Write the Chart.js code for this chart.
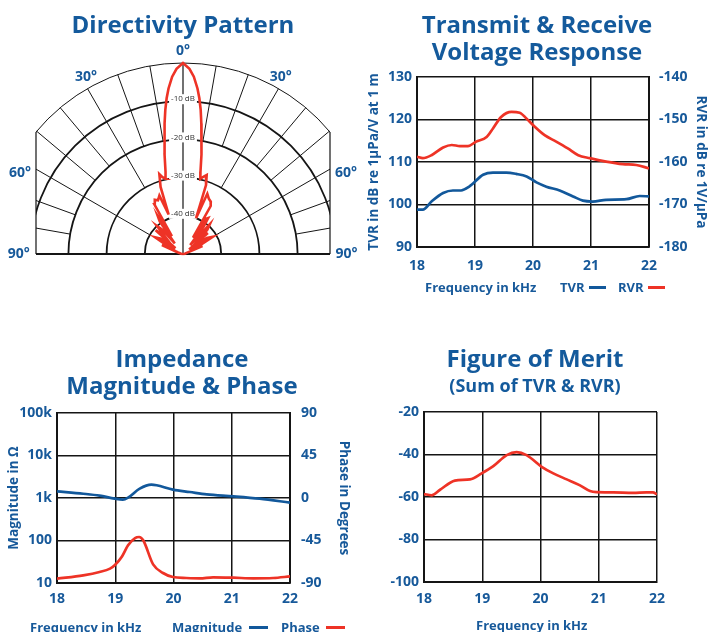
<!DOCTYPE html>
<html>
<head>
<meta charset="utf-8">
<script src="https://cdn.jsdelivr.net/npm/chart.js@4.4.1/dist/chart.umd.min.js"></script>
<style>
  body { margin: 0; background: #fff; }
  #page { position: relative; width: 709px; height: 632px; overflow: hidden; font-family: 'Open Sans', sans-serif; font-weight: 700; color: #17599a; }
  canvas { position: absolute; left: 0; top: 0; }
  .title { position: absolute; text-align: center; white-space: nowrap; font-size: 24px; line-height: 27px; color: #145a9c; }
  .txt { position: absolute; font-size: 13px; line-height: 16px; white-space: nowrap; }
  .key { position: absolute; height: 3px; }
</style>
</head>
<body>
<div id="page">
  <canvas id="polar" width="709" height="632"></canvas>
  <canvas id="tvr" width="709" height="632"></canvas>
  <canvas id="imp" width="709" height="632"></canvas>
  <canvas id="fom" width="709" height="632"></canvas>

  <div class="title" style="left:33px;width:300px;top:10px">Directivity Pattern</div>
  <div class="title" style="left:387px;width:300px;top:10px">Transmit &amp; Receive<br>Voltage Response</div>
  <div class="title" style="left:32px;width:300px;top:344px">Impedance<br>Magnitude &amp; Phase</div>
  <div class="title" style="left:385px;width:300px;top:344px">Figure of Merit</div>
  <div class="title" style="left:385px;width:300px;top:372px;font-size:18px">(Sum of TVR &amp; RVR)</div>

  <div class="txt" style="left:425px;top:279px">Frequency in kHz</div>
  <div class="txt" style="left:560px;top:279px">TVR</div>
  <div class="key" style="left:589px;top:286px;width:17px;background:#12589b"></div>
  <div class="txt" style="left:618px;top:279px">RVR</div>
  <div class="key" style="left:648px;top:286px;width:17px;background:#ee3326"></div>

  <div class="txt" style="left:30px;top:619px">Frequency in kHz</div>
  <div class="txt" style="left:172px;top:619px">Magnitude</div>
  <div class="key" style="left:249px;top:626px;width:19px;background:#12589b"></div>
  <div class="txt" style="left:281px;top:619px">Phase</div>
  <div class="key" style="left:326px;top:626px;width:19px;background:#ee3326"></div>

  <div class="txt" style="left:476px;top:617px">Frequency in kHz</div>
</div>

<script>
// Directivity pattern: angle from axis (deg) and level (dB)
const patternAngle = [-90, -80, -72, -67, -63, -59, -55, -52, -49, -46, -43, -40, -38, -35.5, -33.5, -32, -30, -27.5, -25, -22, -20, -18.5, -16.5, -15, -13, -12, -10.5, -9, -8, -7, -6, -5, -3.5, -2,
  0, 2, 3.5, 5, 6, 7, 8, 9, 10.5, 12, 13, 15, 16.7, 18.5, 20, 22, 25, 28, 30, 31.5, 33, 35, 37, 39, 42, 45, 47, 50, 53, 56, 60, 64, 68, 72, 80, 90];
const patternLevel = [-50, -49.5, -48.5, -44, -46, -41.5, -43, -47.5, -40.5, -43.5, -40, -42, -46.5, -39.5, -38, -44.5, -35, -34, -34.5, -33.5, -39, -31.5, -28.2, -29.2, -29.8, -28, -23.5, -19, -15.5, -12, -9, -6.5, -3.5, -1.5,
  0, -1.5, -3.5, -6.5, -9, -12, -15.5, -19, -23.5, -28, -29.8, -29, -28.4, -31, -40, -33, -34, -34.5, -35.5, -45, -39, -38.5, -41, -47, -39.5, -41, -44, -41.5, -48, -42.5, -41, -46, -44.5, -49, -49.5, -50];
const ringLevels = [0, -10, -20, -30, -40];

// Transmit / receive voltage response
const tvrFreq = [18.0, 18.1, 18.25, 18.45, 18.62, 18.76, 18.9, 19.14, 19.31, 19.54, 19.71, 19.89, 20.06, 20.23, 20.46, 20.69, 20.86, 21.03, 21.26, 21.61, 21.84, 22.0];
const tvrDb = [98.8, 98.8, 100.7, 102.7, 103.3, 103.3, 104.2, 107.0, 107.5, 107.5, 107.2, 106.6, 105.2, 104.2, 103.3, 101.9, 100.9, 100.7, 101.1, 101.25, 102.0, 101.9];
const rvrFreq = [18.0, 18.1, 18.25, 18.45, 18.6, 18.74, 18.88, 19.02, 19.2, 19.31, 19.45, 19.63, 19.77, 19.89, 20.03, 20.2, 20.4, 20.6, 20.78, 20.98, 21.26, 21.55, 21.78, 22.0];
const rvrDb = [-158.75, -159.1, -158.4, -156.6, -156.0, -156.25, -156.25, -155.2, -154.1, -152.1, -149.4, -148.2, -148.4, -149.8, -151.7, -153.7, -155.2, -156.8, -158.4, -159.1, -159.9, -160.5, -160.7, -161.5];

// Impedance
const magFreq = [18.0, 18.45, 18.73, 18.99, 19.13, 19.22, 19.42, 19.62, 19.71, 19.99, 20.28, 20.57, 21.03, 21.48, 22.0];
const magOhm = [1435, 1260, 1135, 964, 912, 1018, 1660, 2060, 1990, 1570, 1383, 1220, 1096, 964, 777];
const phaseFreq = [18.0, 18.45, 18.73, 18.91, 18.99, 19.11, 19.22, 19.34, 19.41, 19.48, 19.65, 19.82, 19.99, 20.22, 20.45, 20.68, 21.03, 21.37, 21.71, 22.0];
const phaseDeg = [-85.4, -81.9, -78.4, -74.8, -71.3, -62.5, -50.1, -42.4, -41.3, -44.8, -70.3, -79.4, -83.7, -84.7, -85.1, -84.0, -84.4, -85.1, -84.7, -83.0];

// Figure of merit
const fomFreq = [18.0, 18.13, 18.27, 18.53, 18.79, 18.99, 19.19, 19.42, 19.59, 19.76, 20.02, 20.22, 20.45, 20.67, 20.85, 20.96, 21.25, 21.59, 21.82, 21.93, 22.0];
const fomDb = [-58.6, -59.2, -56.7, -52.3, -51.7, -48.9, -45.5, -40.3, -38.9, -40.3, -45.8, -48.9, -51.7, -54.4, -57.2, -57.7, -57.8, -58.1, -57.8, -57.8, -58.75];

const freqTicks = [18, 19, 20, 21, 22];
const magTicks = [10, 100, 1000, 10000, 100000];
const magTickLabels = ['10', '100', '1k', '10k', '100k'];

const BLUE_TEXT = '#17599a';
const BLUE = '#12589b';
const RED = '#ee3326';
const GRID = '#151515';
const tickFont = { family: 'Open Sans', size: 14, weight: 'bold' };
const axisTitleFont = { family: 'Open Sans', size: 13.5, weight: 'bold' };

Chart.defaults.animation = false;
Chart.defaults.responsive = false;
Chart.defaults.events = [];
Chart.defaults.plugins.legend.display = false;
Chart.defaults.plugins.tooltip.enabled = false;

function pts(xs, ys) {
  return xs.map((x, i) => ({ x: x, y: ys[i] }));
}

function line(data, color, axis) {
  return {
    data: data, yAxisID: axis, borderColor: color, borderWidth: 2.7,
    pointRadius: 0, tension: 0.4, cubicInterpolationMode: 'monotone'
  };
}

function freqAxis(pad) {
  return {
    type: 'linear', min: 18, max: 22,
    afterBuildTicks: s => { s.ticks = freqTicks.map(v => ({ value: v })); },
    ticks: { color: BLUE_TEXT, font: tickFont, padding: pad, maxRotation: 0 },
    grid: { color: GRID, lineWidth: 1.5, drawTicks: false },
    border: { color: GRID, width: 2 },
    afterFit: s => { s.height = 30; }
  };
}

function valueAxis(pos, width, opts) {
  const right = pos === 'right';
  return Object.assign({
    position: pos,
    ticks: { color: BLUE_TEXT, font: tickFont, padding: right ? 10 : 5 },
    grid: { color: GRID, lineWidth: 1.5, drawTicks: false, drawOnChartArea: !right },
    border: { color: GRID, width: 2 },
    afterFit: s => { s.width = width; }
  }, opts);
}

function axisTitle(text) {
  return { display: true, text: text, color: BLUE_TEXT, font: axisTitleFont, padding: 0 };
}

// polar grid drawn under the pattern
const polarGrid = {
  id: 'polarGrid',
  beforeDatasetsDraw(chart) {
    const { ctx, chartArea: a, scales: { x, y } } = chart;
    const cx = x.getPixelForValue(0), cy = y.getPixelForValue(0);
    const k = cy - y.getPixelForValue(1);
    const rad = db => (db + 50) * k;
    const R = rad(0);
    const spokes = [[10, -20], [20, -20], [30, -30], [40, -20], [50, -20], [60, -40], [70, -20], [80, -20]];

    ctx.save();
    ctx.strokeStyle = GRID;
    ctx.beginPath();
    ctx.rect(a.left, a.top - 3, a.right - a.left, a.bottom - a.top + 3);
    ctx.clip();

    ctx.lineWidth = 1;
    spokes.forEach(([deg, inner]) => {
      [-1, 1].forEach(side => {
        const t = side * deg * Math.PI / 180;
        const r0 = rad(inner);
        ctx.beginPath();
        ctx.moveTo(cx + r0 * Math.sin(t), cy - r0 * Math.cos(t));
        ctx.lineTo(cx + R * Math.sin(t), cy - R * Math.cos(t));
        ctx.stroke();
      });
    });

    ringLevels.forEach(db => {
      ctx.lineWidth = db === 0 ? 1 : 1.8;
      ctx.beginPath();
      ctx.arc(cx, cy, rad(db), Math.PI, 2 * Math.PI);
      ctx.stroke();
    });
    ctx.restore();

    ctx.save();
    ctx.strokeStyle = GRID;
    const h = Math.sqrt(R * R - (cx - a.left) * (cx - a.left));
    ctx.lineWidth = 1.2;
    ctx.beginPath();
    ctx.moveTo(a.left, cy - h); ctx.lineTo(a.left, cy);
    ctx.moveTo(a.right, cy - h); ctx.lineTo(a.right, cy);
    ctx.moveTo(cx, cy); ctx.lineTo(cx, cy - R);
    ctx.stroke();
    ctx.lineWidth = 2;
    ctx.beginPath();
    ctx.moveTo(a.left, cy); ctx.lineTo(a.right, cy);
    ctx.stroke();

    // ring labels
    ctx.font = '8px "Open Sans"';
    ctx.textAlign = 'center';
    ctx.textBaseline = 'middle';
    ringLevels.slice(1).forEach(db => {
      const ty = cy - rad(db) - 2;
      const label = db + ' dB';
      const w = ctx.measureText(label).width + 4;
      ctx.fillStyle = '#fff';
      ctx.fillRect(cx - w / 2, ty - 5, w, 10);
      ctx.fillStyle = '#333';
      ctx.fillText(label, cx, ty);
    });

    // angle labels
    ctx.font = 'bold 14px "Open Sans"';
    ctx.fillStyle = BLUE_TEXT;
    const px = u => cx + u * k, py = u => cy - u * k;
    [['0°', 0, 53.1], ['30°', -25.4, 46.3], ['30°', 25.6, 46.3], ['60°', -42.7, 21.2], ['60°', 42.7, 21.2],
     ['90°', -43.0, 0], ['90°', 42.8, 0]].forEach(([t, ux, uy]) => {
      ctx.fillText(t, px(ux), py(uy));
    });
    ctx.restore();
  }
};

const polarPoints = patternAngle.map((deg, i) => {
  const r = Math.max(0, patternLevel[i] + 50);
  const t = deg * Math.PI / 180;
  return { x: r * Math.sin(t), y: r * Math.cos(t) };
});

new Chart(document.getElementById('polar'), {
  type: 'scatter',
  data: { datasets: [{ data: polarPoints, showLine: true, borderColor: RED, borderWidth: 2.6, pointRadius: 0, tension: 0, clip: false }] },
  options: {
    layout: { padding: { left: 36, right: 379, top: 63, bottom: 378 } },
    scales: {
      x: { type: 'linear', min: -38.5, max: 38.5, display: false },
      y: { type: 'linear', min: 0, max: 50, display: false }
    }
  },
  plugins: [polarGrid]
});

new Chart(document.getElementById('tvr'), {
  type: 'line',
  data: { datasets: [line(pts(tvrFreq, tvrDb), BLUE, 'y'), line(pts(rvrFreq, rvrDb), RED, 'y2')] },
  options: {
    layout: { padding: { left: 366, right: 0, top: 77, bottom: 355 } },
    scales: {
      x: freqAxis(11),
      y: valueAxis('left', 51, { min: 90, max: 130, ticks: { color: BLUE_TEXT, font: tickFont, padding: 5, stepSize: 10 },
        title: axisTitle('TVR in dB re 1µPa/V at 1 m') }),
      y2: valueAxis('right', 60, { min: -180, max: -140, ticks: { color: BLUE_TEXT, font: tickFont, padding: 10, stepSize: 10 },
        title: axisTitle('RVR in dB re 1V/µPa') })
    }
  }
});

new Chart(document.getElementById('imp'), {
  type: 'line',
  data: { datasets: [line(pts(magFreq, magOhm), BLUE, 'y'), line(pts(phaseFreq, phaseDeg), RED, 'y2')] },
  options: {
    layout: { padding: { left: 6, right: 357, top: 413, bottom: 19 } },
    scales: {
      x: freqAxis(8),
      y: valueAxis('left', 51, { type: 'logarithmic', min: 10, max: 100000,
        afterBuildTicks: s => { s.ticks = magTicks.map(v => ({ value: v })); },
        ticks: { color: BLUE_TEXT, font: tickFont, padding: 5, callback: v => magTickLabels[magTicks.indexOf(v)] },
        title: axisTitle('Magnitude in Ω') }),
      y2: valueAxis('right', 62, { min: -90, max: 90, ticks: { color: BLUE_TEXT, font: tickFont, padding: 11, stepSize: 45 },
        title: axisTitle('Phase in Degrees') })
    }
  }
});

new Chart(document.getElementById('fom'), {
  type: 'line',
  data: { datasets: [line(pts(fomFreq, fomDb), RED, 'y')] },
  options: {
    layout: { padding: { left: 360, right: 52, top: 412, bottom: 20 } },
    scales: {
      x: freqAxis(9),
      y: valueAxis('left', 64, { min: -100, max: -20, ticks: { color: BLUE_TEXT, font: tickFont, padding: 5, stepSize: 20 } })
    }
  }
});
</script>
</body>
</html>
